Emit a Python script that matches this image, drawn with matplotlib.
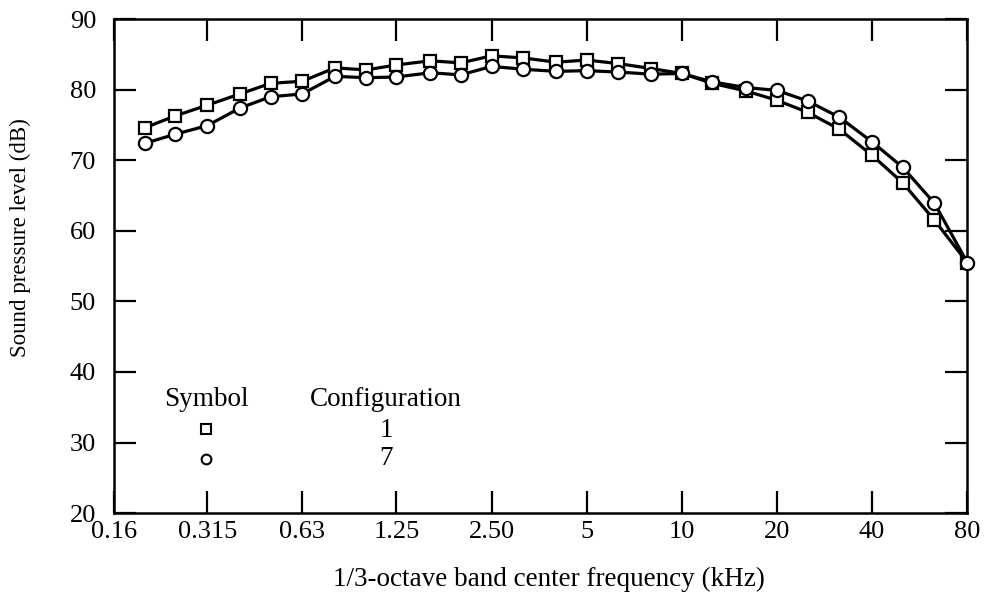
import matplotlib.pyplot as plt
from matplotlib.ticker import NullLocator

# 1/3-octave band centers (kHz)
freq = [0.2, 0.25, 0.315, 0.4, 0.5, 0.63, 0.8, 1.0, 1.25, 1.6, 2.0, 2.5, 3.15,
        4.0, 5.0, 6.3, 8.0, 10.0, 12.5, 16.0, 20.0, 25.0, 31.5, 40.0, 50.0,
        63.0, 80.0]

# configuration 1 (squares)
spl_cfg1 = [74.6, 76.3, 77.8, 79.4, 80.9, 81.2, 83.1, 82.8, 83.5, 84.1, 83.8,
            84.8, 84.5, 83.9, 84.2, 83.7, 83.0, 82.3, 80.9, 79.8, 78.5, 76.8,
            74.4, 70.7, 66.8, 61.5, 55.5]

# configuration 7 (circles)
spl_cfg7 = [72.4, 73.7, 74.9, 77.4, 79.0, 79.4, 81.9, 81.7, 81.8, 82.4, 82.1,
            83.3, 82.9, 82.6, 82.7, 82.5, 82.2, 82.3, 81.1, 80.3, 79.9, 78.4,
            76.1, 72.6, 69.0, 63.9, 55.5]

tick_freqs = [0.16, 0.315, 0.63, 1.25, 2.5, 5, 10, 20, 40, 80]
tick_labels = ['0.16', '0.315', '0.63', '1.25', '2.50', '5', '10', '20', '40', '80']

plt.rcParams['font.family'] = ['Liberation Serif', 'DejaVu Serif']
plt.rcParams['font.size'] = 18

fig = plt.figure(figsize=(9.84, 5.98), dpi=100)
ax = fig.add_axes([0.116, 0.142, 0.867, 0.826])

ax.plot(freq, spl_cfg1, color='black', lw=2.3, marker='s', ms=9,
        mfc='white', mec='black', mew=1.6, zorder=3)
ax.plot(freq, spl_cfg7, color='black', lw=2.3, marker='o', ms=9.5,
        mfc='white', mec='black', mew=1.6, zorder=4, clip_on=False)

ax.set_xscale('log')
ax.set_xlim(0.16, 80)
ax.set_ylim(20, 90)
ax.set_xticks(tick_freqs)
ax.set_xticklabels(tick_labels)
ax.xaxis.set_minor_locator(NullLocator())
ax.set_yticks(range(20, 91, 10))

ax.tick_params(direction='in', length=16, width=1.6, top=True, right=True,
               labelsize=19)
ax.tick_params(axis='x', pad=6)
ax.tick_params(axis='y', pad=13)
for s in ax.spines.values():
    s.set_linewidth(1.8)

ax.set_xlabel('1/3-octave band center frequency (kHz)', fontsize=19.5)
ax.set_ylabel('Sound pressure level (dB)', fontsize=16.5)
ax.xaxis.set_label_coords(0.51, -0.108)
ax.yaxis.set_label_coords(-0.097, 0.557)

# key
ax.text(0.108, 0.229, 'Symbol', transform=ax.transAxes, ha='center', va='center', fontsize=19.5)
ax.text(0.319, 0.229, 'Configuration', transform=ax.transAxes, ha='center', va='center', fontsize=19.5)
ax.plot([0.108], [0.170], transform=ax.transAxes, marker='s', ms=7,
        mfc='white', mec='black', mew=1.5, ls='none', clip_on=False)
ax.plot([0.108], [0.109], transform=ax.transAxes, marker='o', ms=7,
        mfc='white', mec='black', mew=1.5, ls='none', clip_on=False)
ax.text(0.319, 0.168, '1', transform=ax.transAxes, ha='center', va='center', fontsize=19.5)
ax.text(0.319, 0.111, '7', transform=ax.transAxes, ha='center', va='center', fontsize=19.5)

fig.savefig('out.png', dpi=100)
